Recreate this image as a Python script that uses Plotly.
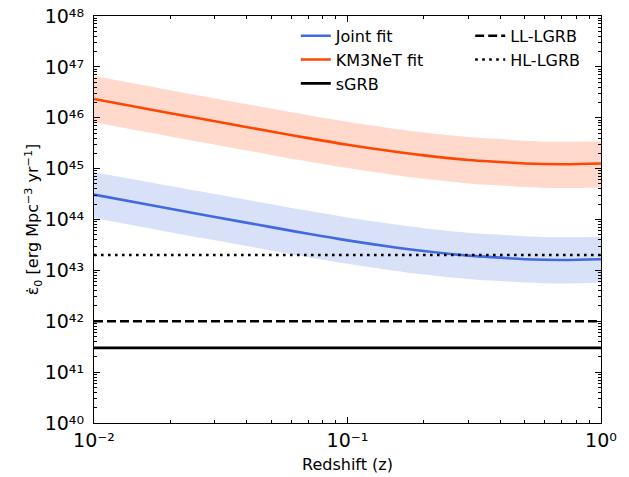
import numpy as np
import plotly.graph_objects as go

# Redshift sample points
z = [0.01, 0.02, 0.03, 0.05, 0.07, 0.1, 0.15, 0.2, 0.3, 0.4, 0.5, 0.7, 1.0]

# log10 of emissivity [erg Mpc^-3 yr^-1]
km3_log = [46.37, 46.09, 45.93, 45.73, 45.60, 45.47, 45.34, 45.26, 45.17, 45.13, 45.10, 45.085, 45.10]
km3_up_log = [46.82, 46.54, 46.38, 46.18, 46.05, 45.92, 45.79, 45.71, 45.62, 45.58, 45.55, 45.53, 45.54]
km3_lo_log = [45.91, 45.63, 45.47, 45.27, 45.14, 45.01, 44.88, 44.80, 44.71, 44.67, 44.64, 44.62, 44.63]

joint_log = [44.49, 44.21, 44.05, 43.85, 43.72, 43.59, 43.46, 43.38, 43.29, 43.25, 43.22, 43.205, 43.22]
joint_up_log = [44.93, 44.66, 44.50, 44.30, 44.17, 44.04, 43.91, 43.83, 43.74, 43.70, 43.67, 43.65, 43.66]
joint_lo_log = [44.03, 43.75, 43.59, 43.39, 43.26, 43.13, 43.00, 42.92, 42.83, 42.79, 42.76, 42.74, 42.76]

# Constant source-class levels
sgrb_level = 3e41
ll_lgrb_level = 1e42
hl_lgrb_level = 2e43
z_span = [0.01, 1.0]

x_ticks = [0.01, 0.1, 1.0]
x_ticktext = ["10⁻²", "10⁻¹", "10⁰"]
y_ticks = [1e40, 1e41, 1e42, 1e43, 1e44, 1e45, 1e46, 1e47, 1e48]
y_ticktext = ["10⁴⁰", "10⁴¹", "10⁴²", "10⁴³", "10⁴⁴", "10⁴⁵", "10⁴⁶", "10⁴⁷", "10⁴⁸"]

def p(a):
    return [10.0 ** v for v in a]

BLUE = "#4169E1"
ORANGE = "#FF4500"
FONT = "DejaVu Sans"

fig = go.Figure()

# bands
fig.add_trace(go.Scatter(x=z, y=p(km3_up_log), mode="lines", line=dict(width=0, shape="spline"),
                         showlegend=False, hoverinfo="skip"))
fig.add_trace(go.Scatter(x=z, y=p(km3_lo_log), mode="lines", line=dict(width=0, shape="spline"),
                         fill="tonexty", fillcolor="rgba(255,69,0,0.2)", showlegend=False, hoverinfo="skip"))
fig.add_trace(go.Scatter(x=z, y=p(joint_up_log), mode="lines", line=dict(width=0, shape="spline"),
                         showlegend=False, hoverinfo="skip"))
fig.add_trace(go.Scatter(x=z, y=p(joint_lo_log), mode="lines", line=dict(width=0, shape="spline"),
                         fill="tonexty", fillcolor="rgba(65,105,225,0.2)", showlegend=False, hoverinfo="skip"))

# curves
fig.add_trace(go.Scatter(x=z, y=p(joint_log), mode="lines", name="Joint fit", legendgroup="a",
                         line=dict(color=BLUE, width=2.6, shape="spline"), legend="legend"))
fig.add_trace(go.Scatter(x=z, y=p(km3_log), mode="lines", name="KM3NeT fit", legendgroup="b",
                         line=dict(color=ORANGE, width=2.6, shape="spline"), legend="legend"))
fig.add_trace(go.Scatter(x=z_span, y=[sgrb_level] * 2, mode="lines", name="sGRB", legendgroup="c",
                         line=dict(color="black", width=2.6), legend="legend"))
fig.add_trace(go.Scatter(x=z_span, y=[ll_lgrb_level] * 2, mode="lines", name="LL-LGRB", legendgroup="d",
                         line=dict(color="black", width=2.6, dash="9px,4px"), legend="legend2"))
fig.add_trace(go.Scatter(x=z_span, y=[hl_lgrb_level] * 2, mode="lines", name="HL-LGRB", legendgroup="e",
                         line=dict(color="black", width=2.6, dash="2.6px,4.4px"), legend="legend2"))

x_minor = [m * 10.0 ** e for e in (-2, -1) for m in range(2, 10)]
y_minor = [m * 10.0 ** e for e in range(40, 48) for m in range(2, 10)]

axis_common = dict(type="log", showgrid=False, zeroline=False, showline=True, linecolor="black",
                   linewidth=1.2, mirror="ticks", ticks="inside", ticklen=6, tickwidth=1.1,
                   tickcolor="black", tickfont=dict(family=FONT, size=19, color="black"),
                   ticklabeloverflow="allow", automargin=False)

fig.update_xaxes(range=[-2, 0], tickvals=x_ticks, ticktext=x_ticktext,
                 title=dict(text="Redshift (z)", font=dict(family=FONT, size=16, color="black"), standoff=8),
                 minor=dict(tickvals=x_minor, ticks="inside", ticklen=3, tickwidth=0.9, tickcolor="black", showgrid=False),
                 **axis_common)
fig.update_yaxes(range=[40, 48], tickvals=y_ticks, ticktext=y_ticktext, ticklabelstandoff=5,
                 title=dict(text="ε̇<sub>0</sub> [erg Mpc<sup>−3</sup> yr<sup>−1</sup>]",
                            font=dict(family=FONT, size=16, color="black"), standoff=0),
                 minor=dict(tickvals=y_minor, ticks="inside", ticklen=3, tickwidth=0.9, tickcolor="black", showgrid=False),
                 **axis_common)

legend_common = dict(bgcolor="rgba(0,0,0,0)", borderwidth=0, yanchor="top", traceorder="normal",
                     font=dict(family=FONT, size=16, color="black"), tracegroupgap=9, itemwidth=30)
fig.update_layout(
    width=629, height=477,
    margin=dict(l=86, r=36, t=8, b=62, autoexpand=False),
    paper_bgcolor="white", plot_bgcolor="white",
    legend=dict(x=0.398, y=0.993, **legend_common),
    legend2=dict(x=0.742, y=0.993, **legend_common),
)

fig.write_html("out.html")
